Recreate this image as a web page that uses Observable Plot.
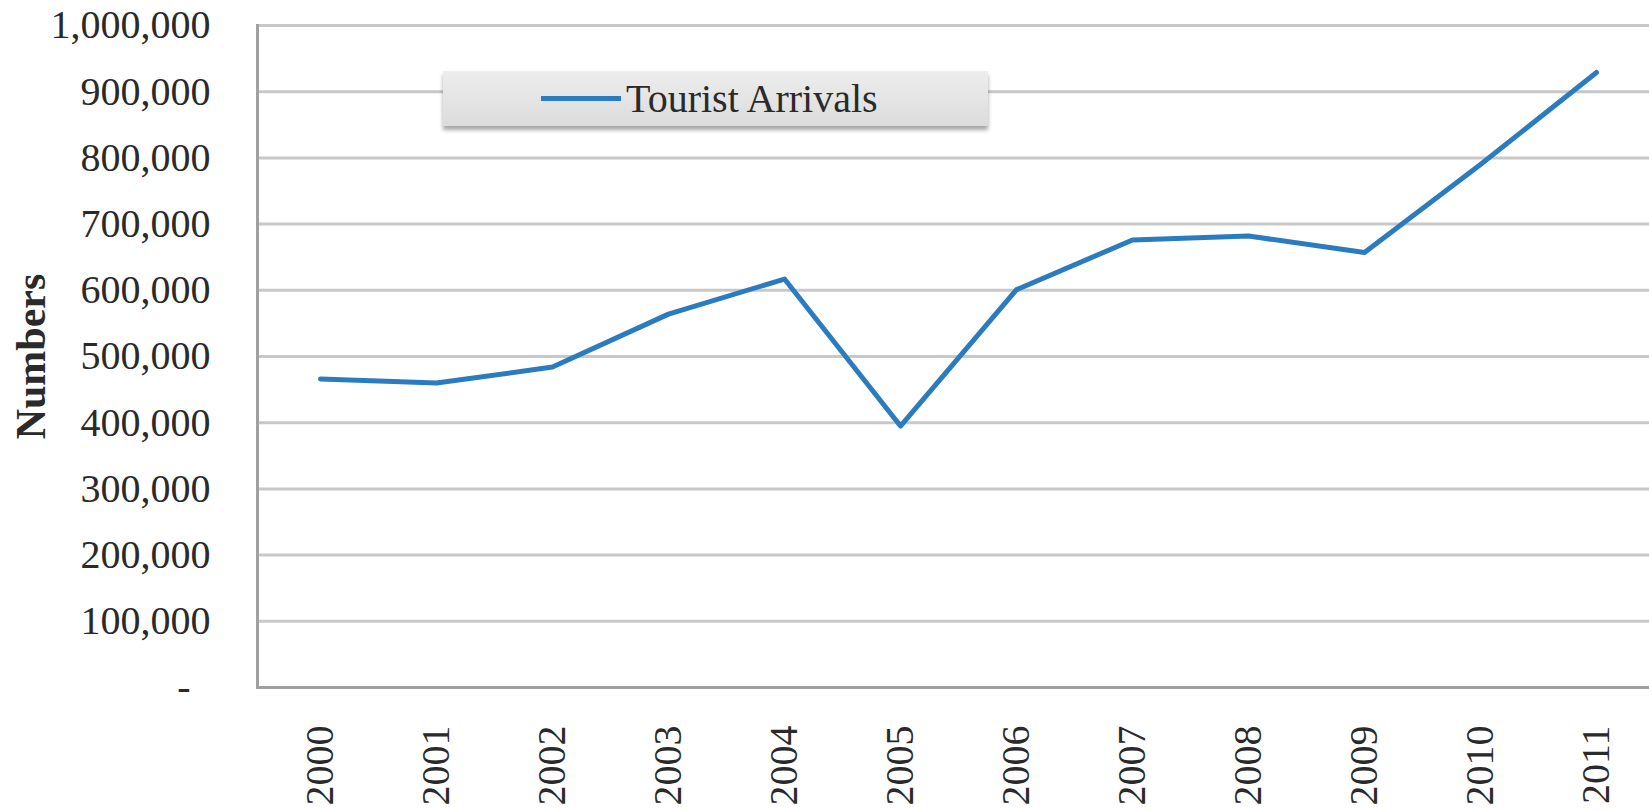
<!DOCTYPE html>
<html><head><meta charset="utf-8">
<script src="https://cdn.jsdelivr.net/npm/d3@7"></script>
<script src="https://cdn.jsdelivr.net/npm/@observablehq/plot@0.6"></script>
<style>
body{margin:0;background:#fff;}
#wrap{position:relative;width:1649px;height:811px;overflow:hidden;background:#fff;}
#legend{position:absolute;z-index:2;left:443px;top:71px;width:545px;height:55px;background:linear-gradient(#ededed,#dcdcdc);box-shadow:0 4px 4px rgba(0,0,0,0.35);font-family:"Liberation Serif";font-size:40px;color:#2a2a2a;display:flex;align-items:center;}
#legend .sw{display:inline-block;margin-left:98px;width:80px;height:5px;background:#2b7bbf;}
#legend .lb{margin-left:5px;}
</style></head><body>
<div id="wrap"><div id="legend"><span class="sw"></span><span class="lb" id="lbtext"></span></div></div>
<script>
const years = [2000, 2001, 2002, 2003, 2004, 2005, 2006, 2007, 2008, 2009, 2010, 2011];
const arrivals = [466000, 460000, 484000, 564000, 617000, 395000, 601000, 676000, 682000, 657000, 790000, 929000];
const yTicks = [0, 100000, 200000, 300000, 400000, 500000, 600000, 700000, 800000, 900000, 1000000];
const seriesName = "Tourist Arrivals";
const yTitle = "Numbers";

const data = years.map((y, i) => ({year: String(y), value: arrivals[i]}));
document.getElementById("lbtext").textContent = seriesName;

const chart = Plot.plot({
  width: 1649, height: 811,
  marginLeft: 257, marginRight: 0, marginTop: 25, marginBottom: 124,
  style: {fontFamily: "Liberation Serif", fontSize: "40px", color: "#2a2a2a", background: "transparent"},
  x: {type: "point", domain: years.map(String), range: [258, 1658], padding: 0.5},
  y: {domain: [0, 1000000]},
  marks: [
    Plot.ruleY(yTicks.filter(d => d > 0), {stroke: "#c8c8c8", strokeWidth: 3}),
    Plot.ruleY([0], {stroke: "#a0a0a0", strokeWidth: 3}),
    Plot.frame({anchor: "left", stroke: "#a0a0a0", strokeWidth: 3}),
    Plot.axisY(yTicks, {tickSize: 0, tickPadding: 47, tickFormat: d => d === 0 ? "-\u2007" : d3.format(",")(d), label: null}),
    Plot.axisX({tickSize: 0, tickPadding: 38, tickRotate: -90, label: null}),
    Plot.line(data, {x: "year", y: "value", stroke: "#2b7bbf", strokeWidth: 5, strokeLinejoin: "round"}),
    Plot.text([yTitle], {frameAnchor: "left", textAnchor: "middle", dx: -226, rotate: -90, fontWeight: "bold", fontSize: 42, fill: "#2a2a2a"})
  ]
});
document.getElementById("wrap").appendChild(chart);
</script>
</body></html>
